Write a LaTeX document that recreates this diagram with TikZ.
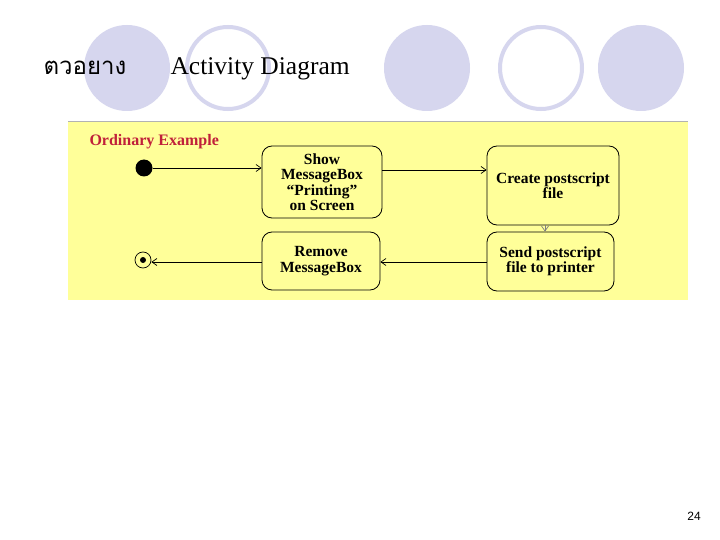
\documentclass[tikz,border=0pt]{standalone}
\usepackage{fontspec}
\setmainfont{Liberation Serif}
\newfontfamily\thaifont[Script=Thai]{Loma}
\newfontfamily\sansf{Liberation Sans}
\usetikzlibrary{arrows.meta}
\definecolor{lav}{HTML}{D6D6EE}
\definecolor{yel}{HTML}{FFFF99}
\definecolor{ttl}{HTML}{C0203A}
\begin{document}
\begin{tikzpicture}[x=1pt,y=-1pt,
 act/.style={draw,line width=0.8pt,rounded corners=10pt,fill=yel,align=center,font=\bfseries\fontsize{15.5}{15.5}\selectfont,inner sep=0pt},
 flow/.style={-{Straight Barb[length=5pt,width=7pt]},line width=0.7pt},
 ring/.style={draw=lav,line width=4pt,fill=white}]
\useasboundingbox (0,0) rectangle (720,540);
\fill[white] (0,0) rectangle (720,540);
\foreach \x in {127,427,641} \fill[lav] (\x,68) circle (43);
\foreach \x in {228,541} \draw[ring] (\x,68) circle (41);
\node[anchor=west,font=\thaifont\fontsize{24}{26}\selectfont] (th) at (40,68) {ตวอยาง};
\node[anchor=west,font=\fontsize{25.5}{28}\selectfont] (ad) at (167,69) {Activity Diagram};
\node[font=\sansf\fontsize{12}{14}\selectfont] (pg) at (694,516) {24};
\fill[yel] (68,122) rectangle (688,300);
\draw[gray!60,line width=1pt] (68,122) -- (688,122);
\node[anchor=west,text=ttl,font=\bfseries\fontsize{16}{16}\selectfont] (oe) at (86,142) {Ordinary Example};
\node[act,minimum width=120pt,minimum height=72pt] (show) at (322,182) {Show\\MessageBox\\``Printing''\\on Screen};
\node[act,minimum width=132pt,minimum height=79pt] (create) at (553,185.5) {Create postscript\\file};
\node[act,minimum width=127pt,minimum height=59pt] (send) at (550.5,261.5) {Send postscript\\file to printer};
\node[act,minimum width=118pt,minimum height=58pt] (remove) at (321,261) {Remove\\MessageBox};
\node[circle,fill=black,minimum size=17pt,inner sep=0pt] (init) at (144,168) {};
\node[circle,draw,line width=0.7pt,fill=yel,minimum size=16pt,inner sep=0pt] (fin) at (143,260) {};
\fill (fin) circle (3);
\draw[flow] (init) -- (show.west |- init);
\draw[flow] (show.east |- 0,170) -- (create.west |- 0,170);
\draw[flow,gray] (create.south -| 545,0) -- (send.north -| 545,0);
\draw[flow] (send.west |- 0,262) -- (remove.east |- 0,262);
\draw[flow] (remove.west |- 0,262) -- (fin.east |- 0,262);
\end{tikzpicture}
\end{document}
